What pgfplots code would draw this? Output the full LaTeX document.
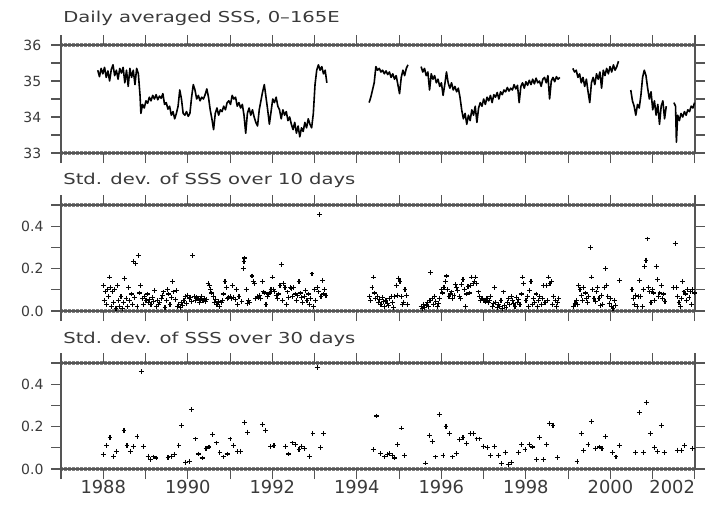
\documentclass[border=0pt]{standalone}
\usepackage{fontspec}
\usepackage{pgfplots}
\pgfplotsset{compat=1.18}
\setmainfont{DejaVu Sans}
\definecolor{txt}{HTML}{3A3A3A}
\definecolor{frm}{HTML}{555555}
\pgfplotsset{
 panel/.style={
  scale only axis, width=475.5pt,
  xmin=1987, xmax=2002,
  xtick={1987,...,2002},
  tick align=outside,
  major tick length=7.5pt,
  major tick style={frm, line width=0.8pt},
  axis line style={frm, line width=1.1pt},
  yticklabel style={font=\fontsize{10.5pt}{11pt}\selectfont, text=txt, inner sep=0pt, anchor=center, xshift=-14pt},
  xticklabel style={font=\fontsize{13.4pt}{14pt}\selectfont, text=txt, inner sep=1pt},
 },
 sss/.style={black, line width=1.2pt, mark=none, line join=round},
 sd/.style={black, only marks, mark=+, mark size=1.8pt, mark options={line width=0.85pt}},
}
\begin{document}
\begin{tikzpicture}
\path[use as bounding box] (0,0) rectangle (531pt,-381pt);
% frames, hatched minor-tick bands, upper and right ticks (drawn first)
\foreach \ty/\by in {-33.75/-114.75, -153.75/-233.25, -272.25/-351.75} {
  \draw[frm!75, line width=2.4pt, dash pattern=on 0.4pt off 0.6pt] (45.75pt,\ty pt) -- (521.25pt,\ty pt);
  \draw[frm!75, line width=2.4pt, dash pattern=on 0.4pt off 0.6pt] (45.75pt,\by pt) -- (521.25pt,\by pt);
  \draw[frm, line width=1.1pt] (45.75pt,\ty pt) rectangle (521.25pt,\by pt);
  \foreach \i in {0,...,15} {
    \draw[frm, line width=0.8pt] ({45.75pt+31.7pt*\i},\ty pt) -- ++(0,7.5pt);
  }
}
\foreach \k in {0,...,6} {\draw[frm, line width=0.8pt] (521.25pt,{-33.75pt-13.5pt*\k}) -- ++(7.5pt,0);}
\foreach \k in {0,...,5} {\draw[frm, line width=0.8pt] (521.25pt,{-153.75pt-15.9pt*\k}) -- ++(7.5pt,0);}
\foreach \k in {0,...,5} {\draw[frm, line width=0.8pt] (521.25pt,{-272.25pt-15.9pt*\k}) -- ++(7.5pt,0);}
% titles
\begin{scope}[shift={(47.25pt,-16.5pt)}, xscale=1.3]
\node[anchor=base west, transform shape, inner sep=0pt, text=txt, font=\fontsize{11.3pt}{13pt}\selectfont] at (0,0) {Daily averaged SSS, 0–165E};
\end{scope}
\begin{scope}[shift={(47.25pt,-138pt)}, xscale=1.3]
\node[anchor=base west, transform shape, inner sep=0pt, text=txt, font=\fontsize{11.3pt}{13pt}\selectfont] at (0,0) {Std. dev. of SSS over 10 days};
\end{scope}
\begin{scope}[shift={(47.25pt,-257.25pt)}, xscale=1.3]
\node[anchor=base west, transform shape, inner sep=0pt, text=txt, font=\fontsize{11.3pt}{13pt}\selectfont] at (0,0) {Std. dev. of SSS over 30 days};
\end{scope}
% ---------------- panel 1
\begin{axis}[panel, at={(45.75pt,-33.75pt)}, anchor=north west, height=81pt,
  ymin=33, ymax=36, ytick={33,33.5,...,36}, yticklabels={33,,34,,35,,36}, xticklabels={}]
\addplot[sss] table {
1987.87 35.30
1987.91 35.12
1987.95 35.35
1987.99 35.20
1988.03 35.38
1988.07 35.10
1988.11 35.28
1988.15 35.00
1988.19 35.32
1988.23 35.45
1988.27 35.15
1988.31 35.30
1988.35 35.05
1988.39 35.35
1988.43 35.22
1988.47 35.38
1988.51 34.95
1988.55 35.30
1988.59 34.85
1988.63 35.35
1988.67 35.10
1988.71 35.30
1988.75 34.90
1988.79 35.35
1988.83 35.20
1988.87 34.60
1988.89 34.10
1988.93 34.35
1988.97 34.25
1989.01 34.45
1989.05 34.38
1989.09 34.55
1989.13 34.45
1989.17 34.60
1989.21 34.50
1989.25 34.62
1989.29 34.48
1989.33 34.58
1989.37 34.52
1989.41 34.65
1989.45 34.35
1989.49 34.40
1989.53 34.22
1989.57 34.30
1989.61 34.05
1989.65 34.15
1989.69 33.95
1989.73 34.10
1989.77 34.30
1989.81 34.75
1989.85 34.50
1989.89 34.10
1989.93 34.05
1989.97 34.15
1990.01 34.02
1990.05 34.10
1990.09 34.55
1990.13 34.90
1990.17 34.75
1990.21 34.50
1990.25 34.60
1990.29 34.45
1990.33 34.55
1990.37 34.50
1990.41 34.62
1990.45 34.78
1990.49 34.55
1990.53 34.20
1990.57 33.95
1990.61 33.65
1990.65 34.10
1990.69 34.25
1990.73 34.05
1990.77 34.20
1990.81 34.15
1990.85 34.30
1990.89 34.20
1990.93 34.40
1990.97 34.45
1991.01 34.35
1991.05 34.60
1991.09 34.50
1991.13 34.55
1991.17 34.30
1991.21 34.40
1991.25 34.25
1991.29 34.35
1991.33 34.05
1991.37 33.55
1991.41 34.10
1991.45 34.25
1991.49 34.05
1991.53 34.20
1991.57 34.00
1991.61 33.85
1991.65 33.75
1991.69 34.20
1991.73 34.45
1991.77 34.70
1991.81 34.90
1991.85 34.55
1991.89 34.20
1991.93 33.80
1991.97 34.15
1992.01 34.50
1992.05 34.40
1992.09 34.55
1992.13 34.30
1992.17 34.20
1992.21 33.95
1992.25 34.20
1992.29 34.05
1992.33 34.15
1992.37 33.90
1992.41 34.00
1992.45 33.80
1992.49 33.65
1992.53 33.85
1992.57 33.55
1992.61 33.75
1992.65 33.45
1992.69 33.70
1992.73 33.60
1992.77 33.85
1992.81 33.70
1992.85 33.95
1992.89 33.80
1992.93 33.70
1992.97 34.10
1993.01 34.90
1993.05 35.30
1993.09 35.45
1993.13 35.30
1993.17 35.40
1993.21 35.20
1993.25 35.30
1993.29 34.95
};
\addplot[sss] table {
1994.29 34.40
1994.33 34.55
1994.37 34.75
1994.41 34.95
1994.45 35.40
1994.49 35.30
1994.53 35.35
1994.57 35.25
1994.61 35.30
1994.65 35.20
1994.69 35.28
1994.73 35.18
1994.77 35.25
1994.81 35.10
1994.85 35.20
1994.89 35.05
1994.93 35.15
1994.97 34.90
1995.01 34.65
1995.05 35.10
1995.09 35.30
1995.13 35.15
1995.17 35.35
1995.21 35.45
};
\addplot[sss] table {
1995.52 35.40
1995.56 35.25
1995.60 35.35
1995.64 35.15
1995.68 35.25
1995.72 34.75
1995.76 35.20
1995.80 35.05
1995.84 35.15
1995.88 34.95
1995.92 35.05
1995.96 34.85
1996.00 34.95
1996.04 34.60
1996.08 34.90
1996.12 35.25
1996.16 34.95
1996.20 34.80
1996.24 34.95
1996.28 34.75
1996.32 34.85
1996.36 34.70
1996.40 34.80
1996.44 34.55
1996.48 34.20
1996.52 33.95
1996.56 34.10
1996.60 33.80
1996.64 34.05
1996.68 33.90
1996.72 34.20
1996.76 34.05
1996.80 34.30
1996.84 33.85
1996.88 34.25
1996.92 34.40
1996.96 34.30
1997.00 34.50
1997.04 34.35
1997.08 34.55
1997.12 34.45
1997.16 34.60
1997.20 34.40
1997.24 34.62
1997.28 34.55
1997.32 34.68
1997.36 34.50
1997.40 34.70
1997.44 34.62
1997.48 34.75
1997.52 34.70
1997.56 34.82
1997.60 34.72
1997.64 34.80
1997.68 34.75
1997.72 34.90
1997.76 34.78
1997.80 34.88
1997.84 34.40
1997.88 34.85
1997.92 34.95
1997.96 34.80
1998.00 34.98
1998.04 34.88
1998.08 35.02
1998.12 34.90
1998.16 35.05
1998.20 34.92
1998.24 35.08
1998.28 34.95
1998.32 35.00
1998.36 34.85
1998.40 35.05
1998.44 35.10
1998.48 34.95
1998.52 35.15
1998.56 34.50
1998.60 35.00
1998.64 35.10
1998.68 34.98
1998.72 35.12
1998.76 35.05
1998.80 35.10
};
\addplot[sss] table {
1999.11 35.35
1999.15 35.25
1999.19 35.30
1999.23 35.10
1999.27 35.20
1999.31 34.95
1999.35 35.10
1999.39 34.85
1999.43 35.05
1999.47 34.70
1999.51 34.40
1999.55 34.95
1999.59 35.10
1999.63 34.90
1999.67 35.20
1999.71 35.05
1999.75 35.25
1999.79 34.80
1999.83 35.30
1999.87 35.15
1999.91 35.35
1999.95 35.20
1999.99 35.40
2000.03 35.25
2000.07 35.45
2000.11 35.30
2000.15 35.40
2000.19 35.55
};
\addplot[sss] table {
2000.48 34.75
2000.52 34.45
2000.56 34.30
2000.60 34.05
2000.64 34.35
2000.68 34.25
2000.72 34.60
2000.76 35.10
2000.80 35.30
2000.84 35.15
2000.88 34.80
2000.92 34.50
2000.96 34.70
2001.00 34.20
2001.04 34.45
2001.08 34.05
2001.12 34.35
2001.16 33.80
2001.20 34.30
2001.24 34.45
2001.28 33.95
2001.32 34.30
};
\addplot[sss] table {
2001.50 34.40
2001.54 34.30
2001.56 33.30
2001.59 34.05
2001.63 33.90
2001.67 34.10
2001.71 34.00
2001.75 34.15
2001.79 34.05
2001.83 34.20
2001.87 34.15
2001.91 34.30
2001.95 34.25
2001.99 34.40
};
\end{axis}
% ---------------- panel 2
\begin{axis}[panel, at={(45.75pt,-153.75pt)}, anchor=north west, height=79.5pt,
  ymin=0, ymax=0.5, ytick={0,0.1,...,0.5}, yticklabels={0.0,,0.2,,0.4,}, xticklabels={}]
\addplot[sd] table {
1988.00 0.12
1988.02 0.05
1988.05 0.09
1988.07 0.03
1988.10 0.10
1988.12 0.07
1988.15 0.16
1988.17 0.11
1988.20 0.02
1988.22 0.09
1988.25 0.04
1988.27 0.10
1988.30 0.01
1988.33 0.12
1988.36 0.05
1988.39 0.02
1988.42 0.07
1988.45 0.01
1988.48 0.04
1988.51 0.155
1988.54 0.06
1988.57 0.02
1988.60 0.11
1988.63 0.05
1988.66 0.08
1988.69 0.03
1988.72 0.235
1988.74 0.065
1988.77 0.225
1988.80 0.02
1988.83 0.26
1988.86 0.085
1988.89 0.12
1988.92 0.06
1988.95 0.03
1988.98 0.07
1989.01 0.05
1989.04 0.08
1989.07 0.04
1989.10 0.055
1989.13 0.03
1989.16 0.065
1989.19 0.045
1989.22 0.095
1989.25 0.02
1989.28 0.05
1989.31 0.03
1989.34 0.04
1989.37 0.06
1989.40 0.075
1989.43 0.09
1989.46 0.015
1989.49 0.05
1989.52 0.10
1989.55 0.08
1989.58 0.03
1989.61 0.065
1989.64 0.14
1989.67 0.09
1989.70 0.055
1989.73 0.095
1989.76 0.02
1989.79 0.03
1989.82 0.015
1989.85 0.04
1989.88 0.025
1989.91 0.05
1989.94 0.07
1989.97 0.035
1990.00 0.075
1990.03 0.06
1990.06 0.065
1990.09 0.045
1990.12 0.26
1990.15 0.07
1990.18 0.05
1990.21 0.065
1990.24 0.06
1990.27 0.04
1990.30 0.055
1990.33 0.07
1990.36 0.05
1990.39 0.06
1990.42 0.045
1990.45 0.055
1990.48 0.13
1990.51 0.12
1990.54 0.10
1990.57 0.085
1990.60 0.07
1990.63 0.04
1990.66 0.055
1990.69 0.03
1990.72 0.045
1990.76 0.02
1990.79 0.04
1990.82 0.05
1990.85 0.08
1990.88 0.14
1990.91 0.11
1990.94 0.06
1990.97 0.065
1991.00 0.07
1991.03 0.06
1991.06 0.12
1991.09 0.065
1991.12 0.055
1991.15 0.10
1991.18 0.03
1991.21 0.07
1991.28 0.045
1991.31 0.20
1991.33 0.235
1991.35 0.25
1991.38 0.10
1991.41 0.035
1991.44 0.05
1991.47 0.04
1991.52 0.165
1991.55 0.14
1991.58 0.13
1991.61 0.06
1991.64 0.07
1991.67 0.065
1991.70 0.075
1991.73 0.06
1991.76 0.14
1991.79 0.09
1991.82 0.085
1991.85 0.03
1991.88 0.07
1991.91 0.08
1991.94 0.085
1991.97 0.10
1992.00 0.16
1992.03 0.10
1992.06 0.09
1992.09 0.075
1992.12 0.06
1992.15 0.08
1992.18 0.12
1992.21 0.22
1992.24 0.05
1992.27 0.13
1992.30 0.11
1992.33 0.03
1992.36 0.09
1992.39 0.065
1992.42 0.11
1992.45 0.105
1992.48 0.07
1992.51 0.11
1992.54 0.08
1992.57 0.05
1992.60 0.075
1992.63 0.14
1992.66 0.085
1992.69 0.065
1992.72 0.04
1992.76 0.07
1992.79 0.095
1992.82 0.05
1992.85 0.08
1992.88 0.03
1992.91 0.06
1992.94 0.175
1992.97 0.02
1993.00 0.10
1993.03 0.05
1993.06 0.11
1993.09 0.09
1993.12 0.455
1993.15 0.07
1993.18 0.145
1993.21 0.08
1993.24 0.10
1993.27 0.075
1994.30 0.07
1994.33 0.05
1994.36 0.11
1994.39 0.16
1994.42 0.085
1994.45 0.06
1994.48 0.07
1994.51 0.04
1994.54 0.055
1994.57 0.03
1994.60 0.065
1994.63 0.045
1994.66 0.02
1994.69 0.05
1994.72 0.035
1994.75 0.025
1994.78 0.06
1994.81 0.07
1994.84 0.04
1994.87 0.015
1994.90 0.07
1994.93 0.12
1994.96 0.075
1994.99 0.155
1995.02 0.14
1995.05 0.07
1995.08 0.03
1995.11 0.04
1995.14 0.10
1995.17 0.075
1995.20 0.03
1995.52 0.02
1995.55 0.01
1995.58 0.03
1995.61 0.015
1995.64 0.025
1995.67 0.04
1995.70 0.02
1995.73 0.05
1995.75 0.18
1995.78 0.06
1995.81 0.03
1995.84 0.07
1995.87 0.045
1995.90 0.02
1995.93 0.035
1995.96 0.06
1996.00 0.10
1996.03 0.085
1996.06 0.11
1996.09 0.14
1996.12 0.165
1996.15 0.10
1996.18 0.07
1996.21 0.08
1996.24 0.09
1996.27 0.06
1996.30 0.075
1996.33 0.125
1996.36 0.11
1996.39 0.095
1996.42 0.07
1996.45 0.06
1996.48 0.125
1996.51 0.15
1996.54 0.10
1996.57 0.02
1996.60 0.08
1996.63 0.115
1996.66 0.085
1996.69 0.12
1996.72 0.16
1996.75 0.13
1996.78 0.14
1996.81 0.16
1996.84 0.13
1996.87 0.09
1996.90 0.07
1996.93 0.05
1996.96 0.06
1996.99 0.05
1997.02 0.05
1997.05 0.045
1997.08 0.06
1997.11 0.04
1997.14 0.05
1997.17 0.07
1997.20 0.02
1997.23 0.035
1997.26 0.11
1997.29 0.04
1997.32 0.015
1997.35 0.03
1997.38 0.02
1997.41 0.05
1997.44 0.01
1997.47 0.09
1997.50 0.025
1997.53 0.015
1997.56 0.04
1997.59 0.06
1997.62 0.03
1997.65 0.07
1997.68 0.05
1997.71 0.035
1997.74 0.02
1997.77 0.065
1997.80 0.04
1997.83 0.055
1997.86 0.03
1997.89 0.08
1997.92 0.16
1997.95 0.13
1998.00 0.05
1998.03 0.07
1998.06 0.02
1998.09 0.095
1998.12 0.14
1998.15 0.03
1998.18 0.06
1998.21 0.04
1998.24 0.08
1998.27 0.02
1998.30 0.05
1998.33 0.07
1998.36 0.03
1998.39 0.06
1998.42 0.12
1998.45 0.04
1998.48 0.12
1998.51 0.05
1998.54 0.16
1998.57 0.13
1998.60 0.14
1998.63 0.03
1998.66 0.07
1998.69 0.05
1998.72 0.02
1998.75 0.04
1998.78 0.06
1999.13 0.02
1999.16 0.035
1999.19 0.05
1999.22 0.03
1999.25 0.12
1999.28 0.10
1999.31 0.075
1999.34 0.05
1999.37 0.11
1999.40 0.085
1999.43 0.06
1999.46 0.04
1999.49 0.07
1999.52 0.30
1999.55 0.16
1999.58 0.10
1999.61 0.06
1999.64 0.045
1999.67 0.09
1999.70 0.11
1999.73 0.06
1999.76 0.025
1999.79 0.075
1999.82 0.03
1999.85 0.11
1999.88 0.20
1999.91 0.12
1999.94 0.07
1999.97 0.035
2000.00 0.06
2000.03 0.02
2000.06 0.01
2000.09 0.05
2000.12 0.025
2000.22 0.145
2000.51 0.10
2000.54 0.06
2000.57 0.03
2000.60 0.075
2000.63 0.02
2000.66 0.07
2000.69 0.145
2000.72 0.07
2000.75 0.02
2000.78 0.10
2000.81 0.21
2000.84 0.24
2000.87 0.34
2000.90 0.11
2000.93 0.09
2000.96 0.04
2000.99 0.10
2001.02 0.085
2001.05 0.05
2001.08 0.21
2001.11 0.15
2001.14 0.07
2001.17 0.085
2001.20 0.12
2001.23 0.06
2001.26 0.08
2001.29 0.045
2001.50 0.11
2001.53 0.32
2001.56 0.11
2001.59 0.07
2001.62 0.04
2001.65 0.02
2001.68 0.06
2001.71 0.14
2001.74 0.09
2001.77 0.08
2001.80 0.05
2001.83 0.10
2001.86 0.065
2001.89 0.09
2001.92 0.03
2001.95 0.10
2001.98 0.085
};
\end{axis}
% ---------------- panel 3
\begin{axis}[panel, at={(45.75pt,-272.25pt)}, anchor=north west, height=79.5pt,
  ymin=0, ymax=0.5, ytick={0,0.1,...,0.5}, yticklabels={0.0,,0.2,,0.4,},
  xticklabels={,1988,,1990,,1992,,1994,,1996,,1998,,2000,,\makebox[0pt][r]{2002}}]
\addplot[sd] table {
1988.00 0.068
1988.08 0.110
1988.16 0.150
1988.24 0.060
1988.31 0.084
1988.49 0.183
1988.56 0.110
1988.64 0.084
1988.71 0.107
1988.80 0.152
1988.90 0.460
1988.96 0.107
1989.06 0.060
1989.11 0.044
1989.18 0.057
1989.25 0.052
1989.53 0.055
1989.61 0.060
1989.69 0.068
1989.79 0.112
1989.86 0.205
1989.95 0.032
1990.04 0.036
1990.09 0.280
1990.18 0.142
1990.25 0.071
1990.34 0.052
1990.43 0.095
1990.50 0.104
1990.59 0.163
1990.68 0.123
1990.76 0.076
1990.85 0.057
1990.93 0.071
1991.00 0.142
1991.09 0.110
1991.18 0.084
1991.25 0.084
1991.35 0.220
1991.41 0.174
1991.76 0.210
1991.84 0.183
1991.96 0.107
1992.04 0.110
1992.31 0.107
1992.39 0.071
1992.47 0.123
1992.55 0.115
1992.63 0.092
1992.69 0.107
1992.77 0.096
1992.88 0.060
1992.96 0.168
1993.06 0.479
1993.14 0.100
1993.22 0.168
1994.39 0.092
1994.47 0.250
1994.56 0.073
1994.66 0.057
1994.72 0.068
1994.78 0.073
1994.84 0.063
1994.89 0.052
1994.97 0.115
1995.05 0.193
1995.13 0.063
1995.62 0.028
1995.72 0.158
1995.78 0.131
1995.86 0.057
1995.95 0.258
1996.04 0.065
1996.11 0.202
1996.20 0.168
1996.27 0.057
1996.35 0.073
1996.43 0.139
1996.51 0.147
1996.60 0.120
1996.68 0.166
1996.76 0.166
1996.84 0.142
1996.90 0.142
1997.00 0.107
1997.09 0.100
1997.17 0.063
1997.25 0.107
1997.35 0.063
1997.43 0.025
1997.51 0.079
1997.58 0.020
1997.66 0.032
1997.82 0.079
1997.90 0.115
1997.98 0.092
1998.08 0.115
1998.16 0.104
1998.25 0.044
1998.33 0.147
1998.41 0.044
1998.49 0.115
1998.56 0.213
1998.64 0.207
1998.74 0.055
1999.21 0.036
1999.31 0.168
1999.37 0.087
1999.47 0.115
1999.55 0.223
1999.65 0.095
1999.74 0.104
1999.80 0.095
1999.88 0.152
2000.04 0.076
2000.13 0.057
2000.21 0.110
2000.59 0.076
2000.68 0.266
2000.78 0.079
2000.85 0.313
2000.94 0.166
2001.04 0.100
2001.11 0.084
2001.20 0.207
2001.27 0.076
2001.58 0.089
2001.68 0.089
2001.76 0.110
2001.94 0.095
};
\end{axis}
\end{tikzpicture}
\end{document}
